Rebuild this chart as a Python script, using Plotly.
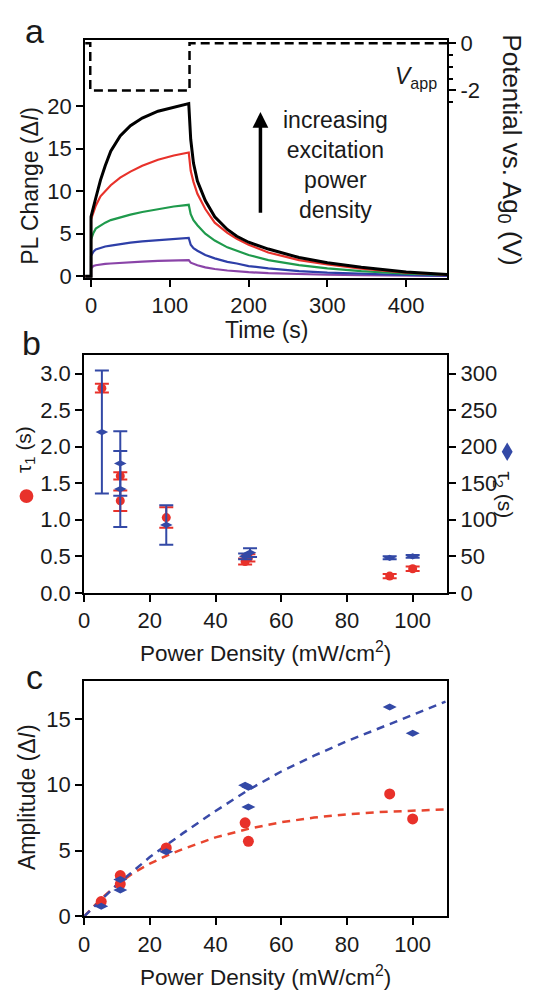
import plotly.graph_objects as go

W, H = 553, 1003
FONT = "Liberation Sans, Arial, Helvetica, sans-serif"
TXT = "#1a1a1a"
RED = "#e8312a"
BLUE = "#3349a6"

# ---------------- Panel a data ----------------
time_s = [-7.5, 0, 0, 3, 6, 12, 18, 25, 37, 50, 65, 85, 105, 124, 126.5, 130, 135, 145,
          157, 173, 185, 200, 225, 264, 300, 343, 400, 427, 452]
pl_black = [0, 0, 7.0, 8.2, 9.2, 11.3, 13.0, 14.7, 16.5, 17.7, 18.6, 19.4, 19.9, 20.3, 16.1, 13.3,
            11.2, 8.9, 7.0, 5.5, 4.7, 4.0, 3.2, 2.2, 1.6, 1.05, 0.5, 0.3, 0.2]
pl_red = [0, 0, 6.7, 7.6, 8.3, 9.4, 10.0, 10.7, 11.6, 12.3, 13.0, 13.7, 14.2, 14.55, 12.4, 11.1,
          9.7, 7.9, 6.3, 5.1, 4.4, 3.7, 2.8, 1.9, 1.4, 0.9, 0.42, 0.28, 0.18]
pl_green = [0, 0, 4.3, 5.1, 5.6, 6.0, 6.3, 6.6, 6.95, 7.25, 7.55, 7.9, 8.2, 8.4, 7.3, 6.6,
            6.0, 5.0, 4.2, 3.4, 3.0, 2.5, 1.9, 1.3, 0.92, 0.6, 0.32, 0.22, 0.15]
pl_blue = [0, 0, 2.4, 2.9, 3.15, 3.35, 3.5, 3.6, 3.8, 3.95, 4.1, 4.25, 4.4, 4.5, 3.7, 3.3,
           3.0, 2.5, 2.1, 1.7, 1.5, 1.2, 0.92, 0.6, 0.42, 0.28, 0.15, 0.1, 0.08]
pl_purple = [0, 0, 0.9, 1.2, 1.3, 1.4, 1.45, 1.5, 1.58, 1.65, 1.72, 1.8, 1.86, 1.9, 1.6, 1.45,
             1.3, 1.05, 0.85, 0.68, 0.58, 0.48, 0.36, 0.25, 0.18, 0.12, 0.08, 0.06, 0.05]
curve_colors = ["#8a44a8", "#2e3fa8", "#1f9a4c", "#e8322b", "#000000"]

vapp_t = [-7.5, -1, -1, 125, 125, 452]
vapp_v = [0, 0, -2, -2, 0, 0]

# ---------------- Panel b data ----------------
tau1_x = [5.4, 11, 11, 25, 49, 50, 93, 100]
tau1_y = [2.80, 1.60, 1.26, 1.03, 0.43, 0.48, 0.23, 0.33]
tau1_err = [0.06, 0.05, 0.14, 0.14, 0.04, 0.05, 0.03, 0.03]

tau2_x = [5.4, 11, 11, 25, 49, 50.5, 93, 100]
tau2_y = [220, 177, 142, 93, 50, 55, 48, 50]
tau2_err = [84, 44, 52, 27, 4, 6, 2, 2]

# ---------------- Panel c data ----------------
amp1_x = [5.2, 11, 11, 25, 49, 50, 93, 100]
amp1_y = [1.12, 3.1, 2.45, 5.2, 7.1, 5.7, 9.3, 7.4]
amp2_x = [5.2, 11, 11, 25, 49, 50, 50, 93, 100]
amp2_y = [0.77, 2.0, 2.8, 4.9, 9.95, 9.8, 8.3, 15.9, 13.9]
fit1_x = [0, 5, 10, 15, 20, 25, 30, 40, 50, 60, 70, 80, 90, 100, 110]
fit1_y = [0, 1.3, 2.4, 3.3, 4.0, 4.6, 5.1, 6.0, 6.65, 7.15, 7.5, 7.75, 7.92, 8.03, 8.12]
fit2_x = [0, 10, 20, 30, 40, 50, 60, 70, 80, 90, 100, 110]
fit2_y = [0, 2.4, 4.5, 6.3, 8.0, 9.6, 11.0, 12.2, 13.3, 14.3, 15.3, 16.3]


def px(x):
    return x / W


def py(y):
    return 1 - y / H


fig = go.Figure()

for vals, col in zip([pl_purple, pl_blue, pl_green, pl_red, pl_black], curve_colors):
    fig.add_trace(go.Scatter(x=time_s, y=vals, mode="lines", xaxis="x", yaxis="y",
                             line=dict(color=col, width=3 if col == "#000000" else 2.2),
                             showlegend=False, hoverinfo="skip"))
fig.add_trace(go.Scatter(x=vapp_t, y=vapp_v, mode="lines", xaxis="x", yaxis="y2",
                         line=dict(color="black", width=2.5, dash="9px,5px"),
                         showlegend=False))

fig.add_trace(go.Scatter(x=tau1_x, y=tau1_y, mode="markers", xaxis="x2", yaxis="y3",
                         marker=dict(symbol="circle", size=9, color=RED),
                         error_y=dict(type="data", array=tau1_err, color=RED, thickness=2, width=7),
                         showlegend=False))
fig.add_trace(go.Scatter(x=tau2_x, y=tau2_y, mode="markers", xaxis="x2", yaxis="y4",
                         marker=dict(symbol="diamond-wide", size=9, color=BLUE),
                         error_y=dict(type="data", array=tau2_err, color=BLUE, thickness=2, width=7),
                         showlegend=False))

fig.add_trace(go.Scatter(x=fit1_x, y=fit1_y, mode="lines", xaxis="x3", yaxis="y5",
                         line=dict(color="#e8452f", width=2.5, dash="8px,6px"), showlegend=False))
fig.add_trace(go.Scatter(x=fit2_x, y=fit2_y, mode="lines", xaxis="x3", yaxis="y5",
                         line=dict(color="#3a4aa8", width=2.5, dash="8px,6px"), showlegend=False))
fig.add_trace(go.Scatter(x=amp1_x, y=amp1_y, mode="markers", xaxis="x3", yaxis="y5",
                         marker=dict(symbol="circle", size=11, color=RED), showlegend=False))
fig.add_trace(go.Scatter(x=amp2_x, y=amp2_y, mode="markers", xaxis="x3", yaxis="y5",
                         marker=dict(symbol="diamond-wide", size=10, color=BLUE), showlegend=False))

tickfont = dict(family=FONT, size=22, color=TXT)
common = dict(showgrid=False, zeroline=False, showline=True, linecolor="black", linewidth=2,
              ticks="outside", ticklen=7, tickwidth=2, tickcolor="black", tickfont=tickfont)

fig.update_layout(
    width=W, height=H, autosize=False,
    margin=dict(l=0, r=0, t=0, b=0),
    paper_bgcolor="white", plot_bgcolor="white",
    xaxis=dict(domain=[px(80), px(446)], anchor="y", range=[-7.5, 452],
               tickvals=[0, 100, 200, 300, 400], mirror=True, **common),
    yaxis=dict(domain=[py(275), py(31.7)], anchor="x", range=[-0.2, 27.77],
               tickvals=[0, 5, 10, 15, 20], **common),
    yaxis2=dict(overlaying="y", side="right", anchor="x", range=[-9.94, 0.137],
                tickvals=[0, -2], ticktext=["0", "-2"],
                minor=dict(tickvals=[-0.5, -1, -1.5, -2.5], ticklen=4, tickwidth=2,
                           tickcolor="black", ticks="outside"),
                **common),
    xaxis2=dict(domain=[px(79), px(446)], anchor="y3", range=[0, 110.5],
                tickvals=[0, 20, 40, 60, 80, 100], mirror=True, **common),
    yaxis3=dict(domain=[py(597), py(354)], anchor="x2", range=[0, 3.25],
                tickvals=[0, 0.5, 1, 1.5, 2, 2.5, 3], tickformat=".1f", **common),
    yaxis4=dict(overlaying="y3", side="right", anchor="x2", range=[0, 325],
                tickvals=[0, 50, 100, 150, 200, 250, 300], **common),
    xaxis3=dict(domain=[px(79), px(446)], anchor="y5", range=[0, 110.5],
                tickvals=[0, 20, 40, 60, 80, 100], mirror=True, **common),
    yaxis5=dict(domain=[py(927.7), py(686.7)], anchor="x3", range=[0, 17.9],
                tickvals=[0, 5, 10, 15], mirror=True, **common),
)

ann = []


def label(x, y, text, size=23, angle=0, **kw):
    ann.append(dict(x=px(x), y=py(y), xref="paper", yref="paper", text=text, showarrow=False,
                    textangle=angle, font=dict(family=FONT, size=size, color=TXT),
                    xanchor="center", yanchor="middle", **kw))


label(29, 22, "a", size=34)
label(26, 342, "b", size=34)
label(29, 683, "c", size=34)
label(24, 181, "PL Change (Δ<i>I</i>)", size=23, angle=-90)
label(263, 328, "Time (s)", size=23)
label(510, 144, "Potential vs. Ag<sub>0</sub> (V)", size=26, angle=90)
label(415, 70, "<i>V</i><sub>app</sub>", size=23)
label(333, 160, "increasing<br>excitation<br>power<br>density", size=23)
label(19, 450, "τ<sub>1</sub> (s)", size=21, angle=-90)
label(503, 497, "τ<sub>2</sub> (s)", size=21, angle=90)
label(262, 657, "Power Density (mW/cm<sup>2</sup>)", size=22.5)
label(22, 806, "Amplitude (Δ<i>I</i>)", size=23, angle=-90)
label(262, 989, "Power Density (mW/cm<sup>2</sup>)", size=22.5)

ann.append(dict(x=215, y=19.3, xref="x", yref="y", ax=215, ay=7.3, axref="x", ayref="y",
                text="", showarrow=True, arrowhead=2, arrowsize=0.9, arrowwidth=3.5,
                arrowcolor="black", standoff=0, startstandoff=0))
fig.update_layout(annotations=ann)

cx, cy, r = 20.7, 498, 7
shapes = [dict(type="circle", xref="paper", yref="paper", x0=px(cx - r), x1=px(cx + r),
               y0=py(cy + r), y1=py(cy - r), fillcolor=RED, line=dict(width=0))]
dx, dy, hw, hh = 506.7, 452.7, 5.5, 9.5
path = (f"M {px(dx)},{py(dy - hh)} L {px(dx + hw)},{py(dy)} L {px(dx)},{py(dy + hh)} "
        f"L {px(dx - hw)},{py(dy)} Z")
shapes.append(dict(type="path", xref="paper", yref="paper", path=path, fillcolor=BLUE,
                   line=dict(width=0)))
fig.update_layout(shapes=shapes)

fig.write_html("out.html", config={"displayModeBar": False},
               post_script="document.body.style.margin='0';document.body.style.overflow='hidden';")
